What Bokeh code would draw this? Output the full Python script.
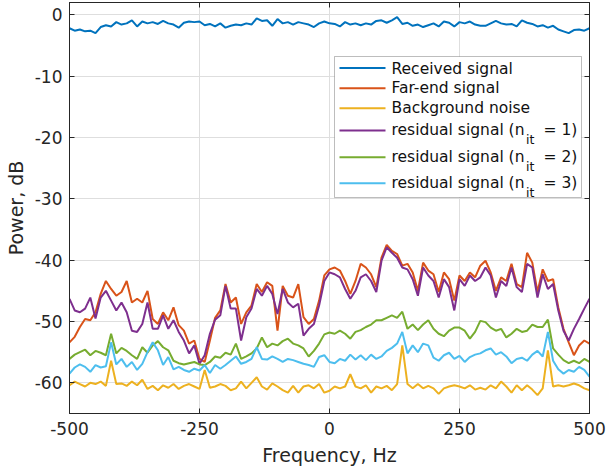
from bokeh.plotting import figure
from bokeh.models import Range1d, FixedTicker, LinearAxis, BoxAnnotation, Label
from bokeh.embed import file_html
from bokeh.resources import INLINE

# ---------------------------------------------------------------- data
freq_hz = list(range(-500, 501, 10))

# power spectra in dB, one value per 10 Hz bin from -500 Hz to 500 Hz
received_db = [
    -2.2, -2.6, -2.4, -2.7, -2.6, -3.0, -2.0, -1.7, -1.9, -1.2,
    -1.6, -1.4, -0.9, -1.9, -1.1, -1.4, -1.2, -1.5, -1.0, -1.4,
    -1.6, -2.1, -1.3, -1.1, -1.2, -1.1, -1.7, -1.5, -1.9, -1.4,
    -2.1, -1.8, -1.6, -1.7, -1.4, -1.6, -0.6, -1.0, -0.9, -1.8,
    -0.7, -1.4, -1.2, -1.6, -1.2, -1.4, -1.6, -2.0, -1.4, -1.1,
    -1.4, -1.5, -1.9, -1.2, -1.6, -1.4, -1.7, -1.4, -1.6, -1.0,
    -0.9, -1.3, -0.9, -0.4, -1.5, -1.3, -1.8, -1.6, -2.0, -1.7,
    -1.4, -1.9, -1.1, -1.3, -1.9, -1.2, -1.4, -1.1, -1.6, -1.8,
    -1.8, -1.4, -1.0, -1.4, -1.6, -1.5, -1.9, -0.9, -1.3, -1.5,
    -1.9, -1.7, -2.1, -1.8, -2.4, -2.7, -3.0, -2.5, -2.4, -2.6,
    -2.2,
]

far_end_db = [
    -53.4, -52.5, -50.9, -49.6, -49.8, -48.5, -45.5, -43.4, -44.7, -45.8,
    -45.2, -43.4, -46.9, -46.3, -46.9, -45.0, -49.6, -50.4, -48.5, -49.8,
    -47.7, -50.6, -51.5, -53.6, -53.1, -56.1, -56.6, -53.1, -49.4, -48.2,
    -43.9, -46.9, -46.1, -50.4, -48.5, -47.4, -43.9, -45.2, -43.6, -44.2,
    -51.5, -44.2, -45.8, -46.1, -43.9, -49.3, -50.4, -49.6, -46.6, -42.5,
    -41.5, -41.2, -41.7, -43.4, -45.5, -43.4, -40.6, -41.2, -42.3, -44.4,
    -39.6, -37.5, -38.5, -39.0, -40.9, -40.6, -42.0, -45.0, -40.4, -41.7,
    -42.3, -45.2, -42.0, -43.1, -46.6, -42.5, -43.4, -42.0, -42.8, -40.9,
    -40.1, -42.0, -45.0, -42.8, -43.4, -40.6, -43.9, -44.4, -38.8, -40.4,
    -45.2, -41.5, -43.4, -43.1, -47.7, -51.2, -53.4, -55.5, -53.9, -53.1,
    -53.6,
]

noise_db = [
    -60.4, -59.8, -60.2, -60.6, -60.0, -60.2, -59.8, -60.5, -56.4, -60.2,
    -60.1, -60.5, -59.8, -60.4, -59.5, -61.0, -60.5, -61.2, -60.4, -60.8,
    -60.2, -61.0, -60.5, -60.2, -60.6, -61.0, -57.9, -60.8, -60.6, -60.2,
    -60.5, -61.2, -60.9, -59.8, -60.9, -60.0, -59.1, -60.6, -61.1, -60.1,
    -60.6, -61.2, -61.6, -60.5, -61.6, -60.6, -60.4, -60.9, -60.2, -61.6,
    -61.3, -60.6, -60.9, -60.6, -58.6, -60.6, -60.9, -60.4, -61.6, -60.6,
    -60.9, -60.5, -61.2, -60.2, -53.9, -60.2, -60.9, -60.2, -60.9, -60.5,
    -60.9, -61.8, -60.9, -60.6, -60.4, -60.6, -60.9, -60.4, -61.1, -60.8,
    -61.1, -60.4, -60.9, -59.8, -60.6, -61.6, -60.4, -61.2, -60.4, -61.1,
    -62.0, -60.9, -54.7, -60.6, -60.4, -60.6, -60.4, -60.1, -60.4, -60.9,
    -61.2,
]

residual_it1_db = [
    -46.3, -48.2, -48.5, -47.9, -46.1, -49.5, -46.1, -45.0, -46.6, -48.2,
    -46.9, -48.5, -51.5, -51.7, -50.4, -46.9, -51.2, -51.2, -49.0, -51.2,
    -49.8, -51.7, -53.1, -55.2, -53.9, -56.9, -55.5, -52.0, -49.7, -49.0,
    -44.2, -47.9, -47.9, -53.1, -49.3, -47.9, -44.7, -45.8, -44.2, -45.5,
    -48.8, -44.7, -46.9, -47.7, -47.1, -52.3, -51.2, -50.4, -47.4, -43.4,
    -42.0, -42.3, -42.8, -44.7, -46.3, -45.0, -42.8, -42.3, -43.4, -45.2,
    -40.1, -37.9, -38.8, -39.6, -41.2, -41.5, -43.1, -45.8, -41.2, -42.5,
    -43.4, -46.1, -43.1, -44.4, -48.2, -43.1, -44.2, -42.5, -43.4, -42.8,
    -41.2, -42.5, -46.1, -43.4, -44.2, -41.2, -44.4, -45.2, -40.6, -41.2,
    -46.1, -42.3, -44.7, -43.9, -48.2, -51.5, -53.1, -51.2, -49.6, -47.9,
    -46.3,
]

residual_it2_db = [
    -56.1, -55.4, -55.0, -54.6, -55.5, -54.8, -55.1, -55.5, -52.0, -55.2,
    -54.3, -54.8, -55.5, -56.1, -54.2, -55.1, -53.9, -53.2, -54.2, -54.7,
    -56.4, -56.8, -57.0, -56.8, -56.6, -57.0, -57.1, -56.6, -55.7, -55.9,
    -55.1, -55.4, -53.6, -56.1, -55.7, -55.2, -54.4, -52.6, -54.2, -53.6,
    -53.9, -53.2, -52.8, -53.6, -53.9, -54.4, -55.7, -54.8, -53.6, -52.1,
    -51.8, -52.0, -51.5, -52.0, -52.8, -51.7, -51.4, -50.9, -50.5, -49.8,
    -49.8, -49.4, -49.0, -49.4, -48.4, -51.2, -50.5, -51.4, -50.5, -49.8,
    -51.2, -52.0, -52.4, -51.5, -51.0, -51.0, -51.5, -52.8, -51.7, -49.9,
    -50.1, -51.0, -51.5, -51.2, -52.6, -52.0, -51.2, -51.7, -51.5, -50.5,
    -50.9, -50.9, -49.7, -54.4, -55.4, -56.3, -56.8, -56.4, -56.8, -56.1,
    -56.6,
]

residual_it3_db = [
    -58.5, -57.5, -57.0, -57.4, -58.2, -57.1, -57.5, -57.3, -53.4, -57.0,
    -56.1, -57.4, -56.6, -57.9, -56.9, -55.0, -53.4, -54.7, -57.1, -55.8,
    -57.8, -57.4, -57.9, -58.2, -57.7, -58.0, -57.1, -58.4, -57.1, -57.7,
    -57.1, -56.4, -55.7, -56.9, -56.6, -56.1, -54.2, -56.1, -56.2, -55.7,
    -56.1, -56.6, -56.1, -56.3, -56.6, -56.9, -57.1, -57.4, -55.8, -55.5,
    -56.6, -56.8, -56.1, -56.4, -55.4, -56.2, -55.5, -56.3, -55.4, -56.1,
    -55.7, -54.8, -54.3, -53.6, -51.7, -55.2, -53.9, -55.0, -53.6, -53.9,
    -55.9, -56.4, -55.5, -55.1, -56.1, -55.6, -56.6, -55.8, -55.4, -55.2,
    -54.7, -54.4, -55.4, -55.0, -55.7, -56.8, -56.1, -55.9, -56.4, -55.4,
    -54.8, -55.7, -51.7, -56.4, -57.8, -58.5, -57.9, -58.2, -57.4, -57.9,
    -59.0,
]

series_values = [received_db, far_end_db, noise_db,
                 residual_it1_db, residual_it2_db, residual_it3_db]
series_names = ["Received signal", "Far-end signal", "Background noise",
                "residual signal", "residual signal", "residual signal"]
series_iterations = [None, None, None, 1, 2, 3]

x_ticks = [-500, -250, 0, 250, 500]
x_tick_labels = ["-500", "-250", "0", "250", "500"]
y_ticks = [-60, -50, -40, -30, -20, -10, 0]
y_tick_labels = ["-60", "-50", "-40", "-30", "-20", "-10", "0"]

# ---------------------------------------------------------------- style
FONT = "DejaVu Sans"
INK = "#262626"
GRID = "#dedede"
COLORS = ["#0072BD", "#D95319", "#EDB120", "#7E2F8E", "#77AC30", "#4DBEEE"]

W, H = 606, 472
B_LEFT, B_RIGHT, B_TOP, B_BOTTOM = 69, 17, 2, 59
FRAME_LEFT = B_LEFT
FRAME_BOTTOM = H - B_BOTTOM

p = figure(width=W, height=H, output_backend="svg", toolbar_location=None,
           x_range=Range1d(-500, 500), y_range=Range1d(-65, 2),
           min_border_left=B_LEFT, min_border_right=B_RIGHT,
           min_border_top=B_TOP, min_border_bottom=B_BOTTOM)
p.background_fill_color = "white"
p.border_fill_color = "white"
p.outline_line_color = INK
p.outline_line_width = 1

for values, color in zip(series_values, COLORS):
    p.line(freq_hz, values, line_color=color, line_width=2)


def style_axis(ax, ticks, labels, show_labels):
    ax.ticker = FixedTicker(ticks=ticks)
    ax.major_tick_in = 5
    ax.major_tick_out = 0
    ax.minor_tick_line_color = None
    ax.axis_line_color = INK
    ax.axis_line_width = 1
    ax.major_tick_line_color = INK
    ax.major_tick_line_width = 1
    if show_labels:
        ax.major_label_overrides = dict(zip(ticks, labels))
        ax.major_label_text_font = FONT
        ax.major_label_text_font_size = "17px"
        ax.major_label_text_color = INK
    else:
        ax.major_label_text_font_size = "0px"
        ax.major_label_text_color = None
        ax.major_label_standoff = 0


xax = p.xaxis[0]
yax = p.yaxis[0]
style_axis(xax, x_ticks, x_tick_labels, True)
style_axis(yax, y_ticks, y_tick_labels, True)
xax.major_label_standoff = 8
yax.major_label_standoff = 7

xax.axis_label = "Frequency, Hz"
yax.axis_label = "Power, dB"
for ax, standoff in ((xax, 6), (yax, 5)):
    ax.axis_label_text_font = FONT
    ax.axis_label_text_font_size = "19px"
    ax.axis_label_text_font_style = "normal"
    ax.axis_label_text_color = INK
    ax.axis_label_standoff = standoff

top_ax = LinearAxis()
right_ax = LinearAxis()
style_axis(top_ax, x_ticks, x_tick_labels, False)
style_axis(right_ax, y_ticks, y_tick_labels, False)
p.add_layout(top_ax, "above")
p.add_layout(right_ax, "right")

p.xgrid.ticker = FixedTicker(ticks=x_ticks)
p.ygrid.ticker = FixedTicker(ticks=y_ticks)
for g in (p.xgrid, p.ygrid):
    g.grid_line_color = GRID
    g.grid_line_width = 1

# ---------------------------------------------------------------- legend
# positions in page pixels (y down), converted to frame-relative screen units
def sx(px):
    return px - FRAME_LEFT


def sy(py):
    return FRAME_BOTTOM - py


LEG_LEFT, LEG_RIGHT, LEG_TOP, LEG_BOTTOM = 334, 581, 56, 197
SAMPLE_X0, SAMPLE_X1 = 339, 385
TEXT_X = 391
SUB_X = 525.5
TAIL_X = 543
ROW_LINE_Y = [67.5, 87.7, 107.7, 130.0, 156.7, 182.7]
ROW_BASE_Y = [68.5, 87.8, 107.8, 129.3, 156.0, 182.0]
SUB_DROP = 9.7

p.add_layout(BoxAnnotation(left=sx(LEG_LEFT), right=sx(LEG_RIGHT),
                           top=sy(LEG_TOP), bottom=sy(LEG_BOTTOM),
                           left_units="screen", right_units="screen",
                           top_units="screen", bottom_units="screen",
                           fill_color="white", fill_alpha=1.0,
                           line_color=INK, line_width=1))


def legend_text(x, y, text, size):
    p.add_layout(Label(x=sx(x), y=sy(y), x_units="screen", y_units="screen",
                       text=text, text_font=FONT, text_font_size=size,
                       text_color="#111111", text_align="left",
                       text_baseline="alphabetic"))


for name, it, color, ly, by in zip(series_names, series_iterations, COLORS,
                                   ROW_LINE_Y, ROW_BASE_Y):
    p.add_layout(BoxAnnotation(left=sx(SAMPLE_X0), right=sx(SAMPLE_X1),
                               top=sy(ly - 1), bottom=sy(ly + 1),
                               left_units="screen", right_units="screen",
                               top_units="screen", bottom_units="screen",
                               fill_color=color, fill_alpha=1.0,
                               line_color=None))
    if it is None:
        legend_text(TEXT_X, by, name, "15.5px")
    else:
        legend_text(TEXT_X, by, name + " (n", "15.5px")
        legend_text(SUB_X, by + SUB_DROP, "it", "12.5px")
        legend_text(TAIL_X, by, "= %d)" % it, "15.5px")

open("out.html", "w").write(file_html(p, INLINE))
